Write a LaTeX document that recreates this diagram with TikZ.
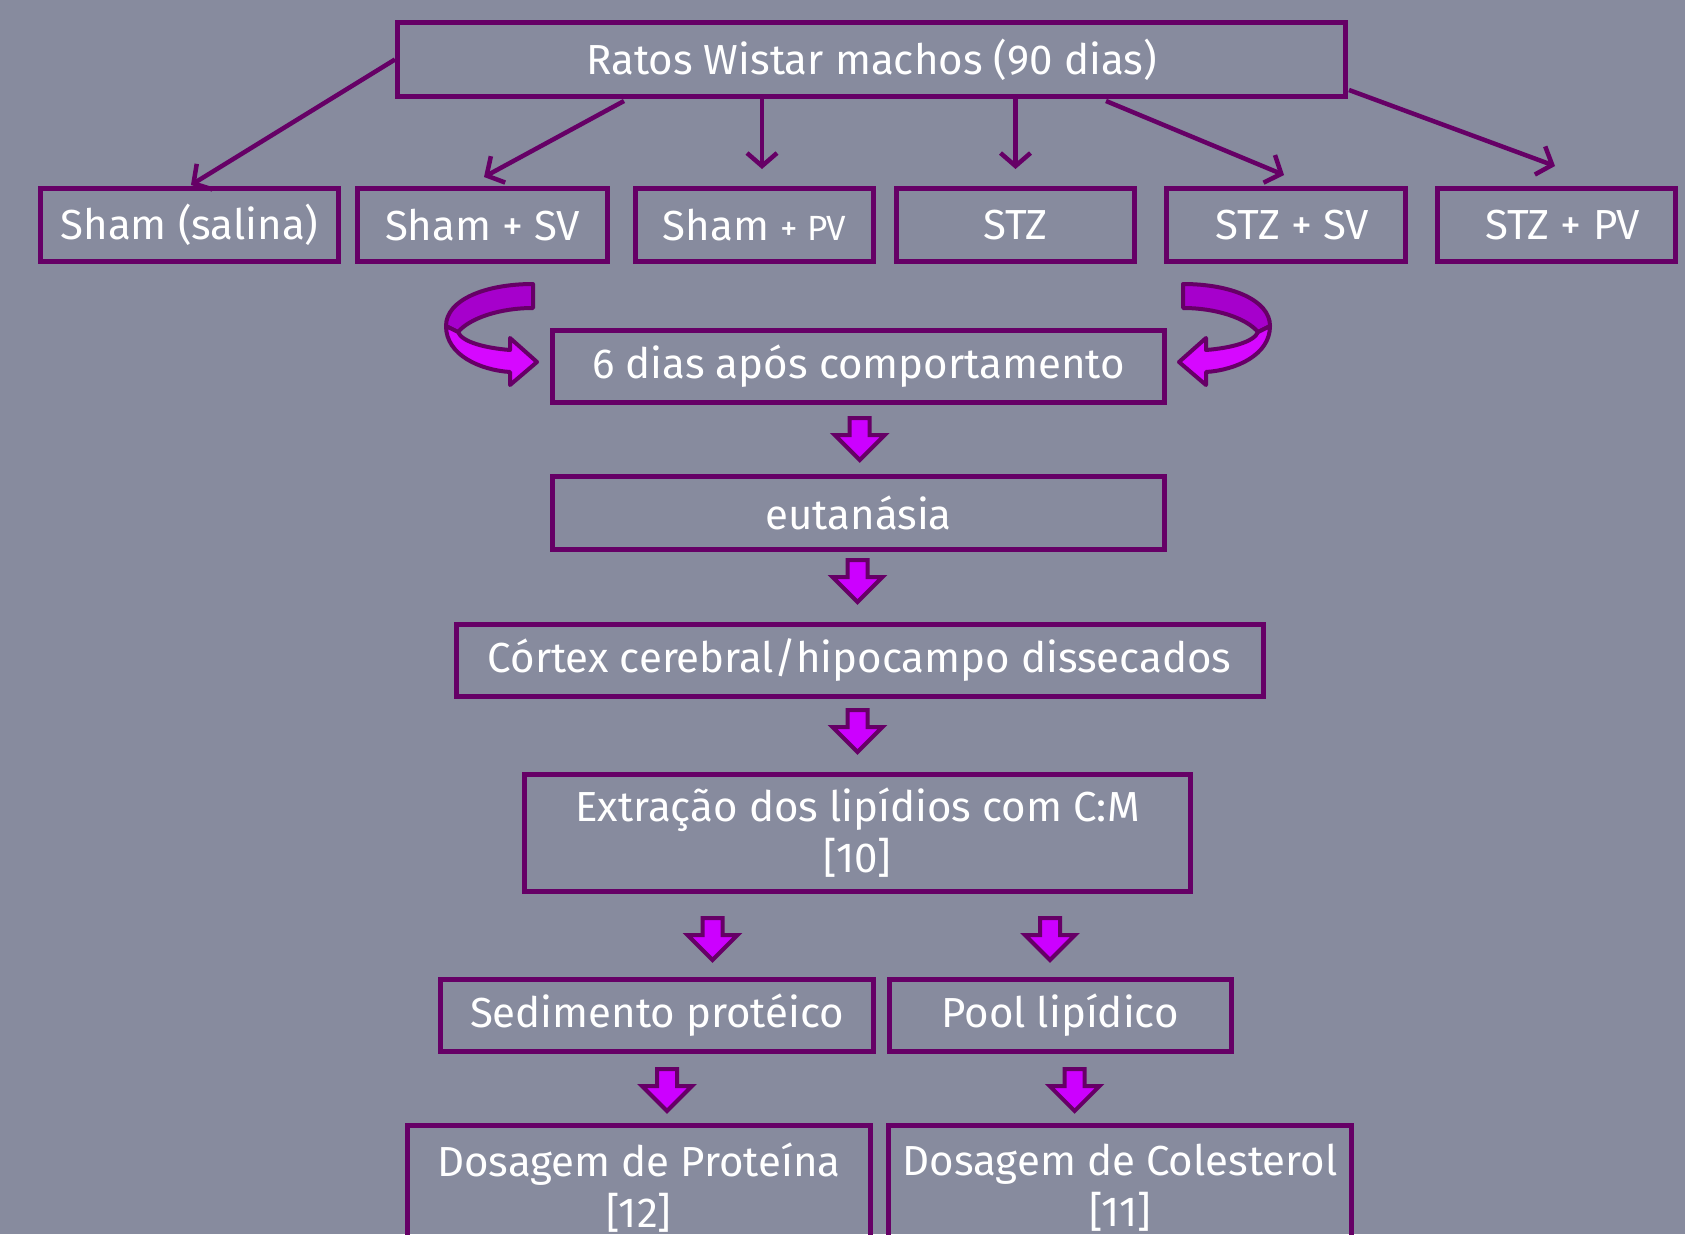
\documentclass[tikz,border=0pt]{standalone}
\usepackage{fontspec}
\setmainfont{Fira Sans}
\usetikzlibrary{arrows.meta}
\definecolor{bgc}{HTML}{878B9E}
\definecolor{pur}{HTML}{660066}
\definecolor{mag}{HTML}{CC00FF}
\definecolor{magd}{HTML}{A600CC}
\definecolor{magl}{HTML}{D608FF}
\tikzset{
  box/.style={draw=pur, line width=5pt, text=white, inner sep=0pt,
    font=\fontsize{42}{51}\selectfont, align=center},
  conn/.style={draw=pur, line width=4.5pt, -{Straight Barb[length=13pt,width=30pt]}},
  barrow/.pic={
    \filldraw[draw=pur, fill=mag, line width=4pt, line join=miter]
      (-10,2) -- (-10,19) -- (-25,19) -- (0,44) -- (25,19) -- (10,19) -- (10,2) -- cycle;
  },
  curvearrow/.pic={
    \filldraw[draw=pur, fill=magd, line width=4pt, line join=round]
      (41.5,-50) .. controls (-6.5,-50) and (-45.5,-34) .. (-45.5,-8)
      -- (-33.5,-2) .. controls (-21.5,-16) and (8.5,-26) .. (41.5,-26) -- cycle;
    \filldraw[draw=pur, fill=magl, line width=4pt, line join=round]
      (-45.5,-8) .. controls (-45.5,21) and (-11.5,36) .. (18.5,38)
      -- (18.5,51) -- (45.5,28) -- (18.5,4) -- (18.5,16)
      .. controls (-6.5,14) and (-29.5,8) .. (-33.5,-2) -- cycle;
  }
}
\begin{document}
\begin{tikzpicture}[x=1pt,y=-1pt]
\useasboundingbox (0,0) rectangle (1685,1234);
\fill[bgc] (0,0) rectangle (1685,1234);
\clip (0,0) rectangle (1685,1234);

% top
\node[box, minimum width=948pt, minimum height=74pt] (top) at (871.5,59.5) {Ratos Wistar machos (90 dias)};
% groups
\node[box, minimum width=298pt, minimum height=73pt] (gA) at (189.5,225) {Sham (salina)};
\node[box, minimum width=250pt, minimum height=73pt] (gB) at (482.5,225) {Sham + SV};
\node[box, minimum width=238pt, minimum height=73pt] (gC) at (754.5,225) {Sham {\fontsize{35}{40}\selectfont + PV}};
\node[box, minimum width=238pt, minimum height=73pt] (gD) at (1015.5,225) {STZ};
\node[box, minimum width=239pt, minimum height=73pt] (gE) at (1286,225) {\hspace*{12pt}STZ + SV};
\node[box, minimum width=238pt, minimum height=73pt] (gF) at (1556.5,225) {\hspace*{12pt}STZ + PV};

% connectors from top
\coordinate (eA) at (191,185);
\coordinate (sB) at (624,101);
\coordinate (eB) at (484,177);
\coordinate (eC) at (762,169);
\coordinate (eD) at (1015.5,169);
\coordinate (sE) at (1106,101);
\coordinate (eE) at (1284,175);
\coordinate (sF) at (1349,90);
\coordinate (eF) at (1555,166);
\draw[conn] (top.west) -- (eA);
\draw[conn] (sB) -- (eB);
\draw[conn] (top.south -| eC) -- (eC);
\draw[conn] (top.south -| eD) -- (eD);
\draw[conn] (sE) -- (eE);
\draw[conn] (sF) -- (eF);

% chain
\node[box, minimum width=612pt, minimum height=72pt] (six) at (858.5,366.5) {6 dias após comportamento};
\node[box, minimum width=612pt, minimum height=73pt] (eut) at (858.5,513) {eutanásia};
\node[box, minimum width=807pt, minimum height=72pt] (cor) at (859.7,660) {Córtex cerebral/hipocampo dissecados};
\node[box, minimum width=666pt, minimum height=117pt] (ext) at (857.5,833) {Extração dos lipídios com C:M\\{}[10]};
\node[box, minimum width=433pt, minimum height=72pt] (sed) at (657,1015.5) {Sedimento protéico};
\node[box, minimum width=342pt, minimum height=72pt] (pool) at (1060,1015.5) {Pool lipídico};
\node[box, minimum width=463pt, minimum height=124pt] (dosP) at (639,1187.5) {Dosagem de Proteína\\{}[12]};
\node[box, minimum width=463pt, minimum height=124pt] (dosC) at (1120,1187.5) {Dosagem de Colesterol\\{}[11]};

% curved arrows
\pic at (491.5,334) {curvearrow};
\pic[xscale=-1] at (1224.5,334) {curvearrow};

% block arrows
\pic at (859.7,416) {barrow};
\pic at (857.5,558) {barrow};
\pic at (857.5,708) {barrow};
\pic at (712.5,916) {barrow};
\pic at (1050,916) {barrow};
\pic at (667,1067) {barrow};
\pic at (1074.6,1067) {barrow};
\end{tikzpicture}
\end{document}
